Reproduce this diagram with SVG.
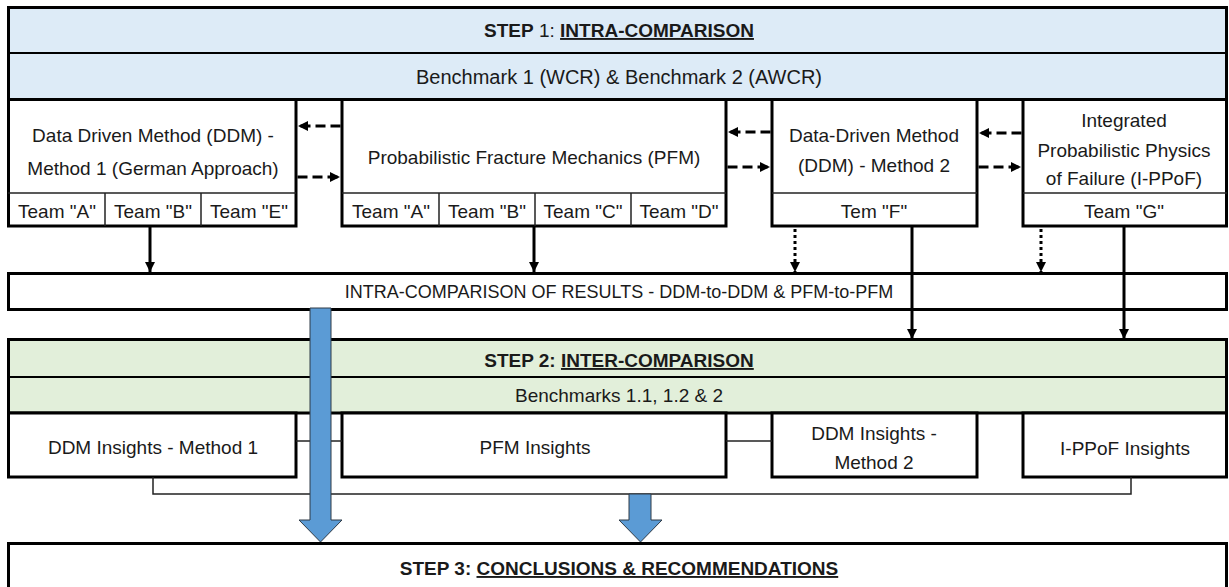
<svg xmlns="http://www.w3.org/2000/svg" width="1229" height="587" viewBox="0 0 1229 587">
  <style>
    .t{font-family:"Liberation Sans",Arial,sans-serif;font-size:19px;fill:#1a1a1a;text-anchor:middle}
    .b{font-weight:bold}
    .u{text-decoration:underline}
    .box{fill:#fff;stroke:#000;stroke-width:3}
    .hdr1{fill:#ddebf7;stroke:#000;stroke-width:3}
    .hdr2{fill:#e2efda;stroke:#000;stroke-width:3}
    .div{stroke:#000;stroke-width:2;fill:none}
    .cell{stroke:#222;stroke-width:1.5;fill:none}
    .link{stroke:#222;stroke-width:1.5;fill:none}
    .solid{stroke:#000;stroke-width:3;fill:none;marker-end:url(#ah)}
    .dash{stroke:#000;stroke-width:3;fill:none;stroke-dasharray:10 5;marker-end:url(#ah)}
    .dot{stroke:#000;stroke-width:3;fill:none;stroke-dasharray:3 3;marker-end:url(#ah)}
    .big{fill:#5b9bd5;stroke:#2e3a46;stroke-width:1}
  </style>
  <defs>
    <marker id="ah" viewBox="0 0 10 10" refX="10" refY="5" markerWidth="10" markerHeight="10" markerUnits="userSpaceOnUse" orient="auto">
      <path d="M0,0 L10,5 L0,10 z" fill="#000"/>
    </marker>
  </defs>

  <!-- Step 1 header -->
  <g id="step1">
    <rect class="hdr1" x="8.5" y="7.5" width="1218" height="92"/>
    <line class="div" x1="8" y1="53" x2="1227" y2="53"/>
    <text class="t" x="619" y="37"><tspan class="b">STEP</tspan> 1: <tspan class="b u">INTRA-COMPARISON</tspan></text>
    <text class="t" x="619" y="84" style="font-size:20px">Benchmark 1 (WCR) &amp; Benchmark 2 (AWCR)</text>
  </g>

  <!-- Method boxes -->
  <g id="ddm1">
    <rect class="box" x="8.5" y="99.5" width="287.5" height="126.5"/>
    <line class="cell" x1="8" y1="193" x2="296" y2="193"/>
    <line class="cell" x1="105" y1="193" x2="105" y2="226"/>
    <line class="cell" x1="201" y1="193" x2="201" y2="226"/>
    <text class="t" x="153" y="142">Data Driven Method (DDM) -</text>
    <text class="t" x="153" y="175">Method 1 (German Approach)</text>
    <text class="t" x="57" y="218">Team "A"</text>
    <text class="t" x="153" y="218">Team "B"</text>
    <text class="t" x="249" y="218">Team "E"</text>
  </g>
  <g id="pfm">
    <rect class="box" x="342" y="99.5" width="384" height="126.5"/>
    <line class="cell" x1="342" y1="193" x2="726" y2="193"/>
    <line class="cell" x1="439" y1="193" x2="439" y2="226"/>
    <line class="cell" x1="535" y1="193" x2="535" y2="226"/>
    <line class="cell" x1="631" y1="193" x2="631" y2="226"/>
    <text class="t" x="534" y="164">Probabilistic Fracture Mechanics (PFM)</text>
    <text class="t" x="391" y="218">Team "A"</text>
    <text class="t" x="487" y="218">Team "B"</text>
    <text class="t" x="583" y="218">Team "C"</text>
    <text class="t" x="679" y="218">Team "D"</text>
  </g>
  <g id="ddm2">
    <rect class="box" x="772" y="99.5" width="205" height="126.5"/>
    <line class="cell" x1="772" y1="193" x2="977" y2="193"/>
    <text class="t" x="874" y="142">Data-Driven Method</text>
    <text class="t" x="874" y="172">(DDM) - Method 2</text>
    <text class="t" x="874" y="218">Tem "F"</text>
  </g>
  <g id="ippof">
    <rect class="box" x="1023" y="99.5" width="203.5" height="126.5"/>
    <line class="cell" x1="1023" y1="193" x2="1227" y2="193"/>
    <text class="t" x="1124" y="127">Integrated</text>
    <text class="t" x="1124" y="157">Probabilistic Physics</text>
    <text class="t" x="1124" y="185">of Failure (I-PPoF)</text>
    <text class="t" x="1124" y="218">Team "G"</text>
  </g>

  <!-- Intra-comparison results bar -->
  <g id="intra">
    <rect class="box" x="8.5" y="273.5" width="1218" height="36"/>
    <text class="t" x="619" y="298" style="font-size:18px">INTRA-COMPARISON OF RESULTS - DDM-to-DDM &amp; PFM-to-PFM</text>
  </g>

  <!-- Step 2 header -->
  <g id="step2">
    <rect class="hdr2" x="8.5" y="339.5" width="1218" height="73.5"/>
    <line class="div" x1="8" y1="377" x2="1227" y2="377"/>
    <text class="t b" x="619" y="367">STEP 2: <tspan class="u">INTER-COMPARISON</tspan></text>
    <text class="t" x="619" y="402">Benchmarks 1.1, 1.2 &amp; 2</text>
  </g>

  <!-- Insight boxes -->
  <g id="ins-ddm1">
    <rect class="box" x="8.5" y="413" width="287.5" height="64"/>
    <text class="t" x="153" y="454">DDM Insights - Method 1</text>
  </g>
  <g id="ins-pfm">
    <rect class="box" x="342" y="413" width="384" height="64"/>
    <text class="t" x="535" y="454">PFM Insights</text>
  </g>
  <g id="ins-ddm2">
    <rect class="box" x="772" y="413" width="205" height="64"/>
    <text class="t" x="874" y="440">DDM Insights -</text>
    <text class="t" x="874" y="469">Method 2</text>
  </g>
  <g id="ins-ippof">
    <rect class="box" x="1023" y="413" width="203.5" height="64"/>
    <text class="t" x="1125" y="455">I-PPoF Insights</text>
  </g>

  <!-- Step 3 -->
  <g id="step3">
    <rect class="box" x="8.5" y="543.5" width="1218" height="50"/>
    <text class="t b" x="619" y="575">STEP 3: <tspan class="u">CONCLUSIONS &amp; RECOMMENDATIONS</tspan></text>
  </g>

  <!-- Connectors -->
  <g id="connectors">
    <!-- exchanges between neighbouring methods -->
    <line class="dash" x1="340.5" y1="126" x2="298" y2="126"/>
    <line class="dash" x1="297.5" y1="177" x2="340" y2="177"/>
    <line class="dash" x1="770.5" y1="132" x2="728" y2="132"/>
    <line class="dash" x1="727.5" y1="167" x2="770" y2="167"/>
    <line class="dash" x1="1021.5" y1="133" x2="979" y2="133"/>
    <line class="dash" x1="978.5" y1="167" x2="1021" y2="167"/>

    <!-- results into the intra-comparison -->
    <line class="solid" x1="150" y1="227" x2="150" y2="272"/>
    <line class="solid" x1="534" y1="227" x2="534" y2="272"/>
    <line class="dot" x1="795" y1="229" x2="795" y2="272"/>
    <line class="dot" x1="1041" y1="229" x2="1041" y2="272"/>

    <!-- single-team methods straight to step 2 -->
    <line class="solid" x1="912" y1="227" x2="912" y2="339"/>
    <line class="solid" x1="1124" y1="227" x2="1124" y2="339"/>

    <!-- insight links -->
    <line class="link" x1="296" y1="441" x2="342" y2="441"/>
    <line class="link" x1="726" y1="441" x2="772" y2="441"/>
    <polyline class="link" points="153,477 153,494 1131,494 1131,477"/>

    <!-- block arrows to step 3 -->
    <polygon class="big" points="310,308 331,308 331,520 342,520 320.5,542 299,520 310,520"/>
    <polygon class="big" points="629,494 651,494 651,520 662,520 640.5,542 619,520 629,520"/>
  </g>
</svg>
